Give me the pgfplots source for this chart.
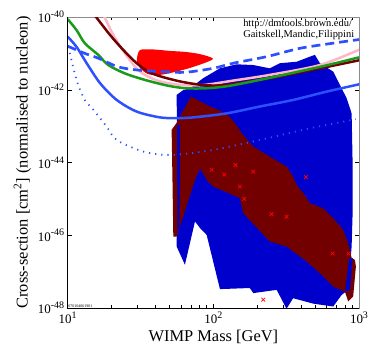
\documentclass[border=0pt]{standalone}
\usepackage{fontspec}
\setmainfont{Liberation Serif}
\usepackage{pgfplots}
\pgfplotsset{compat=1.18}

\definecolor{regblue}{RGB}{0,0,204}
\definecolor{regmaroon}{RGB}{115,0,0}
\definecolor{linegreen}{RGB}{25,155,25}
\definecolor{linepink}{RGB}{255,182,200}
\definecolor{lineblue}{RGB}{45,80,255}
\definecolor{framegray}{RGB}{140,140,140}

% tick label 10^n in the text font
\newcommand{\tl}[1]{10\raisebox{0.85ex}{\fontsize{10}{10}\selectfont #1}}

\begin{document}
\begin{tikzpicture}
\useasboundingbox (-67.7bp,-48bp) rectangle (306.3bp,308bp);
\begin{axis}[
name=ax,
width=291.3bp,
height=291bp,
scale only axis,
xmode=log,
ymode=log,
xmin=10, xmax=1000,
ymin=1e-48, ymax=1e-40,
xtick={10,100,1000},
xticklabels={\tl{1},\tl{2},\tl{3}},
ytick={1e-48,1e-46,1e-44,1e-42,1e-40},
yticklabels={\tl{-48},\tl{-46},\tl{-44},\tl{-42},\tl{-40}},
yminorticks=false,
tick label style={font=\fontsize{13}{13}\selectfont},
label style={font=\fontsize{16.5}{17}\selectfont},
xlabel={WIMP Mass [GeV]},
ylabel={Cross-section [cm\textsuperscript{2}] (normalised to nucleon)},
axis line style={framegray, line width=0.8pt},
tick style={black, line width=0.5pt},
]

% blue region
\addplot[fill=regblue, draw=none] coordinates {
(56.0,7.24e-43) (62.1,9.77e-43) (69.0,1.10e-42) (85.3,2.09e-42)
(111,3.89e-42) (144.5,5.01e-42) (188,4.79e-42) (244,3.89e-42)
(286,5.37e-42) (373,5.89e-42) (460,8.13e-42) (498,9.12e-42)
(539,5.37e-42) (665,3.16e-42) (740,1.35e-42) (822,5.89e-43)
(890,2.24e-43) (904,9.55e-45) (904,4.07e-46) (890,4.90e-47)
(843,3.16e-48) (760,2.29e-48) (665,1.10e-48) (485,1.32e-48)
(353,1.86e-48) (318,9.55e-49) (272,3.16e-48) (188,2.57e-48)
(178,3.55e-48) (111,3.31e-48) (90,1.02e-46) (81,1.58e-46)
(74.8,2.40e-46) (63.8,1.55e-47) (56.0,4.90e-47) (56.5,3.31e-45)
} --cycle;

% maroon region
\addplot[fill=regmaroon, draw=none] coordinates {
(70.2,6.46e-43) (94.8,3.47e-43) (123,2.24e-43) (141,1.20e-43)
(160,5.75e-44) (188,2.75e-44) (244,1.45e-44) (318,7.76e-45)
(353,4.07e-45) (373,2.40e-45) (414,1.45e-45) (460,7.59e-46)
(568,5.50e-46) (665,2.95e-46) (779,1.41e-46) (843,6.03e-47)
(890,2.40e-47) (938,2.09e-47) (952,1.38e-47) (912,2.09e-48)
(843,1.51e-48) (800,2.82e-48) (665,3.89e-48) (568,7.41e-48)
(437,1.91e-47) (318,4.90e-47) (244,6.76e-47) (160,4.07e-46)
(152,1.05e-45) (99.8,2.19e-45) (90,3.31e-45) (81,6.92e-45)
(74.8,3.31e-45) (56.0,9.12e-47) (53.1,9.12e-47) (52.4,3.31e-45)
(51.7,7.94e-44) (56.0,1.23e-43)
} --cycle;

% blue slivers showing through the maroon region
\addplot[fill=regblue, draw=none] coordinates {
(56.5,1.07e-43) (59.0,1.07e-43) (59.0,3.31e-45) (58.3,1.58e-46)
(56.7,1.17e-46) (56.5,3.31e-45)
} --cycle;
\addplot[fill=regblue, draw=none] coordinates {
(857,2.34e-47) (904,2.34e-47) (867,3.16e-48) (802,2.82e-48)
} --cycle;

% red region
\addplot[fill=red, draw=none, smooth] coordinates {
(29.9,7.41e-42) (31.3,1.23e-41) (37.9,1.29e-41) (50.4,1.17e-41)
(63.8,1.10e-41) (80.9,9.55e-42) (99.3,7.24e-42) (87.5,5.50e-42)
(69,3.98e-42) (54.5,3.09e-42) (43,2.57e-42) (35.6,2.69e-42)
(31.3,3.98e-42) (29.9,5.75e-42)
} --cycle;

% limit curves
\addplot[linepink, line width=2.5pt, smooth] coordinates {
(17.5,1.26e-40) (18.0,9.55e-41) (20.0,3.98e-41) (22.2,1.91e-41)
(26.1,7.41e-42) (30.5,3.47e-42) (35.7,2.29e-42) (44.1,1.66e-42)
(60.6,1.35e-42) (85.3,1.35e-42) (136,1.78e-42) (245,2.57e-42)
(540,4.79e-42) (1000,1.26e-41)
};
\addplot[regmaroon, line width=2.5pt, smooth] coordinates {
(15.0,1.26e-40) (15.8,9.55e-41) (19.5,3.24e-41) (23.5,1.38e-41)
(29,5.89e-42) (35.7,3.16e-42) (44.1,2.29e-42) (60.6,1.66e-42)
(85.3,1.35e-42) (120,1.35e-42) (245,2.09e-42) (540,3.89e-42)
(1000,6.46e-42)
};
\addplot[linegreen, line width=2.5pt, smooth] coordinates {
(10,8.71e-41) (11.5,4.37e-41) (13.1,1.91e-41) (16.2,9.12e-42)
(19,4.79e-42) (24.7,2.82e-42) (34,1.86e-42) (49,1.29e-42)
(65,1.10e-42) (90,1.10e-42) (130,1.29e-42) (245,2.14e-42)
(540,4.27e-42) (1000,7.76e-42)
};
\addplot[lineblue, line width=2.5pt, smooth] coordinates {
(10,2.88e-41) (11.5,1.51e-41) (13.5,5.37e-42) (16.7,1.51e-42)
(21.7,5.25e-43) (29.8,2.51e-43) (43,1.74e-43) (56,1.66e-43)
(72.8,1.74e-43) (123,2.24e-43) (209,3.47e-43) (353,5.25e-43)
(600,8.91e-43) (1000,1.41e-42)
};
\addplot[lineblue, line width=2.7pt, dash pattern=on 9pt off 5pt, smooth] coordinates {
(10,1.58e-41) (13.1,1.0e-41) (16.2,7.41e-42) (22.2,4.27e-42)
(30.5,3.47e-42) (45,3.16e-42) (63.8,3.02e-42) (99.7,3.89e-42)
(137,5.37e-42) (232,8.13e-42) (393,1.38e-41) (665,1.91e-41)
(1000,2.40e-41)
};
\addplot[lineblue, line width=1.8pt, dash pattern=on 1.2pt off 5pt, smooth] coordinates {
(10.1,1.51e-41) (11.5,1.86e-42) (13.1,5.25e-43) (15,2.82e-43)
(18.5,9.77e-44) (21.7,4.17e-44) (33,2.0e-44) (50.3,1.62e-44)
(94.8,2.14e-44) (209,4.17e-44) (460,8.71e-44) (950,1.55e-43)
};

% model points
\addplot[only marks, mark=x, mark size=2.6pt, red, mark options={line width=0.8pt}] coordinates {
(97.3,6.31e-45) (118.9,4.68e-45) (142,8.51e-45) (188,5.62e-45)
(432,3.98e-45) (152,2.19e-45) (163,1.0e-45) (251,3.80e-46)
(318,3.24e-46) (659,3.16e-47) (849,3.16e-47) (220,1.70e-48)
};

\node[anchor=north west, align=left, inner sep=0pt,
      font=\fontsize{10.5}{11}\selectfont] at (rel axis cs:0.602,0.993)
  {http://dmtools.brown.edu/\\Gaitskell,Mandic,Filippini};
\node[anchor=south west, inner sep=0.5pt, font=\fontsize{4}{4}\selectfont]
  at (rel axis cs:0,0) {070104061901};
\end{axis}
\draw[black, line width=0.9pt] (ax.north west) -- (ax.south west) -- (ax.south east);
\end{tikzpicture}
\end{document}
